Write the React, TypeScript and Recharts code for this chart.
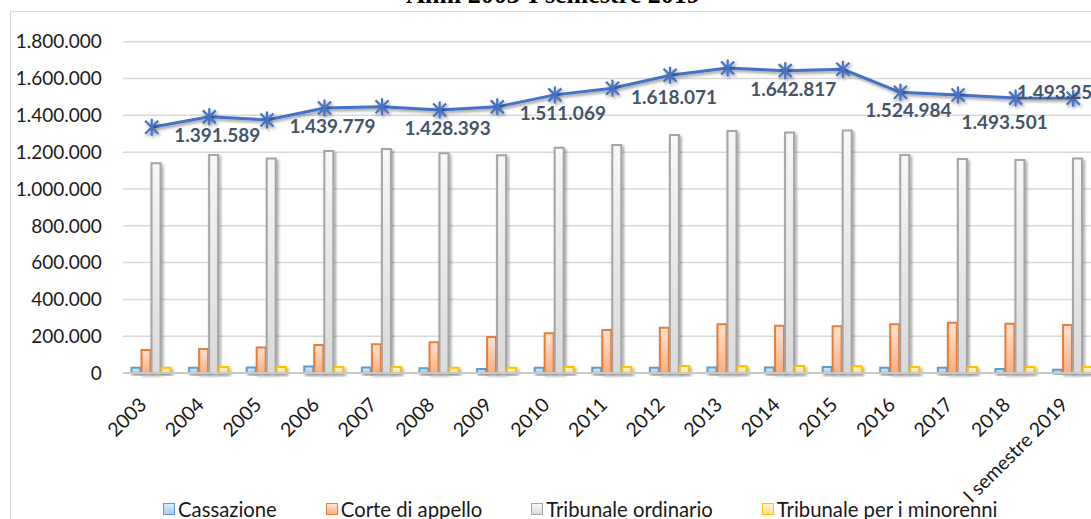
import React from 'react';
import { ComposedChart, Bar, Line, XAxis, YAxis, CartesianGrid, Legend, LabelList } from 'recharts';

const categories = ['2003', '2004', '2005', '2006', '2007', '2008', '2009', '2010', '2011', '2012', '2013', '2014', '2015', '2016', '2017', '2018', 'I semestre 2019'];
const cassazione = [28000, 28000, 30000, 35000, 30000, 26000, 22000, 28000, 28000, 28000, 30000, 30000, 33000, 28000, 28000, 22000, 18000];
const corteAppello = [125000, 130000, 138000, 152000, 156000, 167000, 196000, 216000, 234000, 246000, 265000, 257000, 254000, 265000, 273000, 268000, 261000];
const tribunaleOrdinario = [1139000, 1184000, 1166000, 1206000, 1217000, 1194000, 1183000, 1224000, 1239000, 1293000, 1315000, 1306000, 1317000, 1184000, 1163000, 1157000, 1166000];
const tribunaleMinorenni = [29000, 33000, 33000, 33000, 33000, 29000, 29000, 32000, 33000, 38000, 37000, 38000, 37000, 33000, 33000, 33000, 33000];
const totale = [1335000, 1391589, 1375000, 1439779, 1447000, 1428393, 1446000, 1511069, 1547000, 1618071, 1657000, 1642817, 1650000, 1524984, 1510000, 1493501, 1493253];
const labeledCategories = ['2004', '2006', '2008', '2010', '2012', '2014', '2016', '2018', 'I semestre 2019'];
const yTicks = [0, 200000, 400000, 600000, 800000, 1000000, 1200000, 1400000, 1600000, 1800000];
const seriesNames = ['Cassazione', 'Corte di appello', 'Tribunale ordinario', 'Tribunale per i minorenni'];
const title = 'Anni 2003-I semestre 2019';

const data = categories.map((c, i) => ({
  name: c,
  cass: cassazione[i],
  corte: corteAppello[i],
  trib: tribunaleOrdinario[i],
  min: tribunaleMinorenni[i],
  tot: totale[i],
}));

const fmt = (v: number) => String(Math.round(v)).replace(/\B(?=(\d{3})+(?!\d))/g, '.');

const FONT = 'Lato, "Liberation Sans", Arial, sans-serif';
const LINE_COLOR = '#4472C4';

const swatches = [
  { stroke: '#5B9BD5', grad: 'gCass' },
  { stroke: '#ED7D31', grad: 'gCorte' },
  { stroke: '#A5A5A5', grad: 'gTrib' },
  { stroke: '#FFC000', grad: 'gMin' },
];

const swatchFill = [
  ['#DDEBF7', '#A9CCEB'],
  ['#FDE4D5', '#F8AE82'],
  ['#F7F7F7', '#DADADA'],
  ['#FFF5D6', '#FFE38A'],
];

const XTick = (props: any) => {
  const { x, y, payload } = props;
  const px = x - 4;
  const py = y + 31;
  return (
    <text x={px} y={py} transform={`rotate(-45, ${px}, ${py})`} textAnchor="end" fontFamily={FONT} fontSize={19.5} fill="#1a1a1a">
      {payload.value}
    </text>
  );
};

const StarDot = (props: any) => {
  const { cx, cy, index } = props;
  if (cx == null || cy == null) return <g key={`d${index}`} />;
  const a = 6.5;
  const v = 8.5;
  return (
    <g key={`d${index}`} filter="url(#shadow)">
      <path
        d={`M${cx - a},${cy - a}L${cx + a},${cy + a}M${cx + a},${cy - a}L${cx - a},${cy + a}M${cx},${cy - v}L${cx},${cy + v}`}
        stroke={LINE_COLOR}
        strokeWidth={2.2}
        fill="none"
      />
    </g>
  );
};

const labelShift: Record<string, [number, number]> = {
  '2012': [4, 21],
  '2018': [-11, 23],
  'I semestre 2019': [-13, -7],
};

const TotLabel = (props: any) => {
  const { x, y, value, index } = props;
  const cat = categories[index];
  if (!labeledCategories.includes(cat)) return null;
  const [dx, dy] = labelShift[cat] || [8, 17.5];
  return (
    <text x={x + dx} y={y + dy} textAnchor="middle" dominantBaseline="central" fontFamily={FONT} fontWeight={700} fontSize={19} fill="#44546A">
      {fmt(value)}
    </text>
  );
};

const LegendContent = () => (
  <div style={{ height: 28, paddingTop: 7, boxSizing: 'border-box', display: 'flex', paddingLeft: 163, gap: 49, fontFamily: FONT, fontSize: 20.3, color: '#1a1a1a', lineHeight: '20px' }}>
    {seriesNames.map((n, i) => (
      <div key={n} style={{ display: 'flex', alignItems: 'center' }}>
        <span
          style={{
            display: 'inline-block',
            width: 10,
            height: 10,
            border: `1.5px solid ${swatches[i].stroke}`,
            background: `linear-gradient(${swatchFill[i][0]}, ${swatchFill[i][1]})`,
            marginRight: 3,
          }}
        />
        <span>{n}</span>
      </div>
    ))}
  </div>
);

export default function App() {
  return (
    <div style={{ position: 'fixed', left: 0, top: 0, width: 1091, height: 519, overflow: 'hidden', background: '#fff' }}>
      <div style={{ position: 'absolute', left: 10, top: 11, width: 1200, height: 600, borderLeft: '1.5px solid #D9D9D9', borderTop: '1.5px solid #D9D9D9' }} />
      <div style={{ position: 'absolute', left: 0, width: 1106, top: -18, textAlign: 'center', fontFamily: '"Liberation Serif", "Times New Roman", serif', fontWeight: 700, fontSize: 26, lineHeight: '26px', color: '#000', whiteSpace: 'nowrap' }}>
        {title}
      </div>
      <div style={{ position: 'absolute', left: 0, top: 0 }}>
        <ComposedChart width={1110} height={519} data={data} margin={{ top: 41.7, right: 8, left: 0, bottom: 0 }} barCategoryGap="15%" barGap={1}>
          <defs>
            {swatches.map((s, i) => (
              <linearGradient key={s.grad} id={s.grad} x1="0" y1="0" x2="0" y2="1">
                <stop offset="0%" stopColor={swatchFill[i][0]} />
                <stop offset="100%" stopColor={swatchFill[i][1]} />
              </linearGradient>
            ))}
            <filter id="shadow" x="-50%" y="-50%" width="200%" height="200%">
              <feDropShadow dx="1.5" dy="2" stdDeviation="1.5" floodColor="#000" floodOpacity="0.4" />
            </filter>
          </defs>
          <CartesianGrid vertical={false} stroke="#D9D9D9" strokeWidth={1.5} />
          <XAxis dataKey="name" interval={0} height={118} tickLine={false} tickSize={0} axisLine={{ stroke: '#C9C9C9', strokeWidth: 2 }} tick={<XTick />} />
          <YAxis width={122.9} domain={[0, 1800000]} ticks={yTicks} tickFormatter={fmt} axisLine={false} tickLine={false} tickSize={0} tickMargin={21} tick={{ fontFamily: FONT, fontSize: 19, fill: '#1a1a1a' }} />
          <Legend verticalAlign="bottom" content={<LegendContent />} />
          <Bar dataKey="cass" name={seriesNames[0]} fill="url(#gCass)" stroke="#5B9BD5" strokeWidth={2} filter="url(#shadow)" isAnimationActive={false} />
          <Bar dataKey="corte" name={seriesNames[1]} fill="url(#gCorte)" stroke="#ED7D31" strokeWidth={2} filter="url(#shadow)" isAnimationActive={false} />
          <Bar dataKey="trib" name={seriesNames[2]} fill="url(#gTrib)" stroke="#A5A5A5" strokeWidth={2} filter="url(#shadow)" isAnimationActive={false} />
          <Bar dataKey="min" name={seriesNames[3]} fill="url(#gMin)" stroke="#FFC000" strokeWidth={2} filter="url(#shadow)" isAnimationActive={false} />
          <Line dataKey="tot" name="Totale" stroke={LINE_COLOR} strokeWidth={3} dot={<StarDot />} activeDot={false} legendType="none" isAnimationActive={false} style={{ filter: 'url(#shadow)' }}>
            <LabelList dataKey="tot" content={<TotLabel />} />
          </Line>
        </ComposedChart>
      </div>
    </div>
  );
}
